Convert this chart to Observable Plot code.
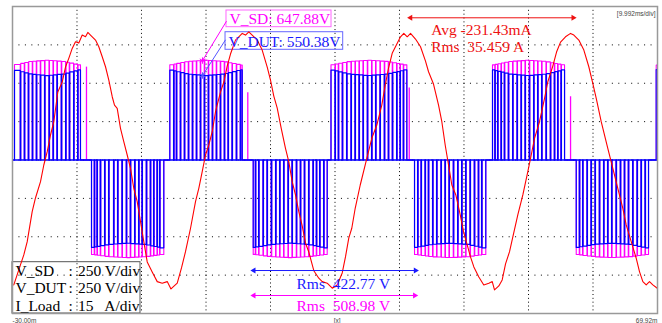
<!DOCTYPE html>
<html><head><meta charset="utf-8">
<script src="https://cdn.jsdelivr.net/npm/d3@7"></script>
<script src="https://cdn.jsdelivr.net/npm/@observablehq/plot@0.6"></script>
<style>
html,body{margin:0;padding:0;background:#fff;}
svg text{white-space:pre;}
</style></head><body><div id="chart"></div>
<script>
// ---- Axis / grid (ms, divisions) ----
const tStart = -30.00, tEnd = 69.92;
const gridT = [-20.01, -10.02, -0.02, 9.97, 19.96, 29.95, 39.94, 49.94, 59.93];
const gridDiv = [-3, -2, -1, 0, 1, 2, 3];
const vPerDiv = 250, aPerDiv = 15;

// ---- PWM switching instants (ms) read per half-cycle burst ----
const p1 = [-29.69, -28.76, -28.14, -27.52, -26.90, -26.28, -25.66, -25.00, -24.31, -23.69, -23.08, -22.41, -21.74, -21.17, -20.50, -19.88, -19.47];
const n1 = [-17.76, -17.30, -16.88, -16.37, -15.70, -15.08, -14.31, -13.69, -13.01, -12.34, -11.72, -11.05, -10.43, -9.91, -9.24, -8.62, -8.11, -7.58, -7.18, -6.56];
const p2 = [-5.63, -5.01, -4.59, -3.97, -3.35, -2.73, -2.11, -1.49, -0.87, -0.26, 0.36, 0.98, 1.60, 2.22, 2.84, 3.42, 4.04, 4.70, 5.32, 5.59];
const n2 = [7.29, 7.65, 8.16, 8.84, 9.46, 10.12, 10.79, 11.41, 12.03, 12.71, 13.33, 14.00, 14.62, 15.24, 15.90, 16.58, 17.10, 17.61, 18.23, 18.75];
const p3 = [19.34, 19.99, 20.50, 21.12, 21.79, 22.47, 23.09, 23.71, 24.33, 25.00, 25.66, 26.28, 26.96, 27.63, 28.25, 28.87, 29.54, 30.06, 30.57, 31.09];
const n3 = [32.28, 32.79, 33.32, 33.94, 34.45, 35.11, 35.73, 36.41, 37.03, 37.65, 38.32, 38.99, 39.61, 40.23, 40.91, 41.57, 42.19, 42.70, 43.32];
const p4 = [44.36, 44.75, 45.18, 45.71, 46.22, 46.84, 47.51, 48.19, 48.81, 49.43, 50.09, 50.76, 51.38, 52.00, 52.68, 53.35, 53.97, 54.48, 55.00, 55.52];
const n4 = [57.33, 57.84, 58.35, 59.03, 59.65, 60.27, 60.94, 61.60, 62.22, 62.84, 63.53, 64.19, 64.81, 65.43, 66.10, 66.78, 67.40, 68.02, 68.53];
const p5 = [69.72];
const bursts = [p1, n1, p2, n2, p3, n3, p4, n4, p5];
const burstSign = [1, -1, 1, -1, 1, -1, 1, -1, 1];
const notchMs = 0.08;

// ---- Pulse-top envelopes (V), sampled across each burst ----
const envFrac = [0, 0.25, 0.5, 0.75, 1];
const dutPosEnv = [589, 560, 550, 560, 589];
const dutNegEnv = [571, 550, 542, 550, 575];
const sdPosEnv = [618, 642, 650, 642, 618];
const sdNegEnv = [614, 630, 636, 630, 614];

// ---- Extra V_SD spikes after positive bursts ----
const sdSpikeT = [-18.54, 6.45, 31.46, 56.45];
const sdSpikeV = [605, 438, 469, 412];

// ---- Load current (ms, A) ----
const iT = [-29.80, -28.25, -27.72, -26.95, -26.44, -25.66, -25.15, -24.62, -24.11, -23.60, -22.98, -22.30, -21.79, -21.28, -20.75, -20.24, -19.73, -19.20, -18.69, -18.33, -17.92, -17.14, -16.63, -16.10, -15.59, -15.08, -14.55, -14.20, -13.78, -13.27, -12.76, -12.23, -11.72, -11.21, -10.68, -10.17, -9.66, -9.13, -8.36, -7.58, -6.81, -6.03, -5.45, -4.48, -3.82, -3.20, -2.42, -1.65, -1.14, -0.61, -0.10, 0.41, 0.94, 1.45, 2.22, 2.74, 3.26, 3.77, 4.55, 5.06, 5.59, 6.10, 6.61, 7.13, 7.91, 8.68, 9.46, 9.97, 10.48, 11.01, 11.63, 12.29, 12.80, 13.33, 13.84, 14.35, 14.88, 15.39, 15.90, 16.68, 17.45, 17.98, 18.75, 19.53, 20.30, 21.08, 21.59, 22.10, 22.56, 23.09, 23.87, 24.64, 25.15, 25.66, 26.44, 27.21, 27.74, 28.25, 28.82, 29.60, 30.11, 30.62, 31.15, 31.66, 32.43, 33.21, 33.98, 34.45, 35.22, 36.00, 36.51, 37.03, 37.55, 38.06, 38.68, 39.36, 39.87, 40.44, 40.95, 41.47, 42.24, 43.01, 43.79, 44.32, 44.67, 45.34, 45.86, 46.38, 47.00, 47.51, 48.28, 49.06, 49.83, 50.36, 50.87, 51.64, 52.42, 52.93, 53.70, 54.28, 54.90, 55.67, 56.45, 56.96, 57.73, 58.51, 59.28, 59.85, 60.43, 61.20, 62.22, 63.00, 63.77, 64.55, 65.07, 65.85, 66.62, 67.13, 67.65, 68.17, 68.68, 69.20, 69.88];
const iA = [-48.83, -37.11, -31.91, -20.20, -14.84, -8.48, -1.95, 3.24, 9.77, 14.96, 26.56, 30.47, 36.33, 39.73, 43.63, 46.21, 45.70, 48.83, 48.16, 49.88, 48.83, 46.88, 44.26, 40.35, 36.45, 31.25, 24.73, 21.48, 20.20, 12.38, 7.15, 1.95, -3.24, -11.05, -16.29, -24.10, -31.91, -39.84, -43.75, -47.54, -48.16, -47.54, -50.39, -48.16, -42.19, -35.82, -26.68, -16.29, -11.05, -4.57, 1.95, 5.86, 11.05, 18.87, 26.56, 30.47, 36.72, 41.41, 46.88, 48.16, 49.49, 48.83, 50.12, 48.83, 46.88, 42.97, 36.33, 31.25, 25.00, 20.31, 12.38, 4.57, -0.66, -8.48, -13.67, -20.20, -25.78, -32.42, -35.94, -43.28, -46.21, -47.54, -48.16, -50.12, -48.83, -44.14, -37.77, -30.47, -26.68, -18.87, -9.77, -1.95, 3.24, 8.48, 13.67, 21.48, 29.30, 35.94, 41.68, 45.59, 48.16, 49.49, 48.16, 49.49, 47.27, 44.26, 38.67, 34.49, 29.69, 21.48, 14.96, 5.86, -1.95, -9.77, -13.67, -21.48, -28.01, -33.20, -37.89, -41.80, -45.70, -48.83, -48.16, -47.54, -50.78, -49.22, -46.88, -40.63, -35.82, -30.08, -21.48, -13.67, -4.57, 1.95, 8.48, 14.96, 24.10, 30.59, 36.72, 42.19, 46.09, 48.16, 49.49, 48.83, 46.88, 42.97, 36.45, 30.47, 24.10, 14.96, 4.57, -3.24, -11.05, -18.87, -25.39, -31.91, -38.40, -43.63, -47.54, -48.83, -47.54, -48.83, -50.12];

// ---- Cursor readouts ----
const cursorT = -0.56;
const vSdCursor = 647.88, vDutCursor = 550.38;

// ---- Build stepped PWM traces from switching instants ----
function envAt(env, f) {
  const i = Math.min(envFrac.length - 2, Math.max(0, d3.bisectRight(envFrac, f) - 1));
  const u = (f - envFrac[i]) / (envFrac[i + 1] - envFrac[i]);
  return env[i] + (env[i + 1] - env[i]) * u;
}
function trace(posEnv, negEnv) {
  const pts = [{t: tStart, v: 0}];
  let open = false;
  bursts.forEach((L, k) => {
    const s = burstSign[k], env = s > 0 ? posEnv : negEnv, n = L.length;
    if (n === 1) {
      const lv = s * env[0];
      pts.push({t: L[0], v: 0}, {t: L[0], v: lv}, {t: tEnd, v: lv});
      open = true;
      return;
    }
    const span = L[n - 1] - L[0], h = notchMs / 2;
    const edges = [L[0]];
    for (let i = 1; i < n - 1; i++) edges.push(L[i] - h, L[i] + h);
    edges.push(L[n - 1]);
    pts.push({t: L[0], v: 0});
    for (let j = 0; j < edges.length; j += 2) {
      const a = edges[j], b = edges[j + 1];
      const lv = s * envAt(env, ((a + b) / 2 - L[0]) / span);
      pts.push({t: a, v: lv}, {t: b, v: lv}, {t: b, v: 0});
      if (j + 2 < edges.length) pts.push({t: edges[j + 2], v: 0});
    }
  });
  if (!open) pts.push({t: tEnd, v: 0});
  return pts;
}
const sdTrace = trace(sdPosEnv, sdNegEnv);
const dutTrace = trace(dutPosEnv, dutNegEnv);
const current = iT.map((t, i) => ({t, a: iA[i]}));
const spikes = sdSpikeT.map((t, i) => ({t, v: sdSpikeV[i]}));

const C_SD = "#ff00ff", C_DUT = "#0000ff", C_I = "#ff0000";
const serif = "Liberation Serif, Times New Roman, serif";

const boxes = [
  {x1: 3.15, x2: 19.42, y1: 3.461, y2: 3.896, c: "#ff66ff"},
  {x1: 3.00, x2: 21.23, y1: 2.872, y2: 3.330, c: "#6666ff"},
  {x1: -30.0, x2: -10.17, y1: -4.0, y2: -2.663, c: "#555"}
];
const labels = [
  {t: 3.62, y: 3.531, s: "V_SD: 647.88V", c: C_SD},
  {t: 3.46, y: 2.939, s: "V_DUT: 550.38V", c: "#1a1aff"},
  {t: 34.86, y: 3.252, s: "Avg -231.43mA", c: "#ee1111"},
  {t: 34.86, y: 2.809, s: "Rms  35.459 A", c: "#ee1111"},
  {t: 14.0, y: -3.356, s: "Rms  422.77 V", c: "#1a1aff"},
  {t: 14.0, y: -3.940, s: "Rms  508.98 V", c: C_SD}
];
const legend = [
  {y: -3.010, a: "V_SD", b: "250 V/div"},
  {y: -3.471, a: "V_DUT", b: "250 V/div"},
  {y: -3.922, a: "I_Load", b: "15   A/div"}
];
const arrows = [
  {t1: 31.66, t2: 56.86, y: 3.706, c: "#ee1111"},
  {t1: 7.38, t2: 32.43, y: -2.880, c: "#1a1aff"},
  {t1: 7.38, t2: 32.32, y: -3.531, c: C_SD}
];
const leaders = [
  {t1: cursorT, y1: vSdCursor / vPerDiv, t2: 3.15, y2: 3.617, c: C_SD},
  {t1: cursorT, y1: vDutCursor / vPerDiv, t2: 3.00, y2: 3.132, c: "#5555ff"}
];

const chart = Plot.plot({
  width: 662, height: 323,
  marginLeft: 12, marginRight: 5, marginTop: 6, marginBottom: 10,
  x: {domain: [tStart, tEnd], axis: null},
  y: {domain: [-4, 4], axis: null},
  style: {background: "#fff"},
  marks: [
    Plot.ruleY(gridDiv, {stroke: "#000", strokeWidth: 1, strokeDasharray: "1,5.45"}),
    Plot.ruleX(gridT, {stroke: "#000", strokeWidth: 1, strokeDasharray: "1,2.84"}),
    Plot.rect(boxes, {x1: "x1", x2: "x2", y1: "y1", y2: "y2", stroke: "c", fill: "none", strokeWidth: 1}),
    Plot.ruleX(spikes, {x: "t", y1: 0, y2: d => d.v / vPerDiv, stroke: C_SD, strokeWidth: 1.3}),
    Plot.line(sdTrace, {x: "t", y: d => d.v / vPerDiv, stroke: C_SD, strokeWidth: 1.1, clip: true}),
    Plot.ruleY([0], {stroke: C_DUT, strokeWidth: 1.5}),
    Plot.line(dutTrace, {x: "t", y: d => d.v / vPerDiv, stroke: C_DUT, strokeWidth: 1.2, clip: true}),
    Plot.line(current, {x: "t", y: d => d.a / aPerDiv, stroke: C_I, strokeWidth: 1.1, clip: true}),
    Plot.link(leaders, {x1: "t1", y1: "y1", x2: "t2", y2: "y2", stroke: "c", strokeWidth: 1}),
    Plot.dot(leaders, {x: "t1", y: "y1", symbol: "asterisk", r: 3, stroke: "c", strokeWidth: 1}),
    Plot.link(arrows, {x1: "t1", x2: "t2", y1: "y", y2: "y", stroke: "c", strokeWidth: 1}),
    Plot.dot(arrows, {x: "t1", y: "y", symbol: "triangle", r: 2.2, fill: "c", stroke: "none", rotate: -90}),
    Plot.dot(arrows, {x: "t2", y: "y", symbol: "triangle", r: 2.2, fill: "c", stroke: "none", rotate: 90}),
    Plot.text(labels, {x: "t", y: "y", text: "s", fill: "c", textAnchor: "start", lineAnchor: "bottom", fontSize: 15.5, fontFamily: serif}),
    Plot.text(legend, {x: -29.54, y: "y", text: "a", fill: "#000", textAnchor: "start", lineAnchor: "bottom", fontSize: 15.5, fontFamily: serif}),
    Plot.text(legend, {x: -21.32, y: "y", text: () => ":", fill: "#000", textAnchor: "start", lineAnchor: "bottom", fontSize: 15.5, fontFamily: serif}),
    Plot.text(legend, {x: -19.85, y: "y", text: "b", fill: "#000", textAnchor: "start", lineAnchor: "bottom", fontSize: 15.5, fontFamily: serif}),
    Plot.frame({stroke: "#999", strokeWidth: 1.5}),
    Plot.text([tStart], {x: d => d, y: -4, dy: 7, text: () => "-30.00m", textAnchor: "start", fontSize: 6.5, fill: "#444", fontFamily: "Arial, Liberation Sans, sans-serif"}),
    Plot.text([tEnd], {x: d => d, y: -4, dy: 7, text: () => "69.92m", textAnchor: "end", fontSize: 6.5, fill: "#444", fontFamily: "Arial, Liberation Sans, sans-serif"}),
    Plot.text([20.3], {x: d => d, y: -4, dy: 7, text: () => "[x]", textAnchor: "middle", fontSize: 6.5, fill: "#444", fontFamily: "Arial, Liberation Sans, sans-serif"}),
    Plot.text([tEnd], {x: d => d, y: 4, dx: -2, dy: 7, text: () => "[9.992ms/div]", textAnchor: "end", fontSize: 6.5, fill: "#444", fontFamily: "Arial, Liberation Sans, sans-serif"})
  ]
});
document.getElementById("chart").append(chart);
</script></body></html>
